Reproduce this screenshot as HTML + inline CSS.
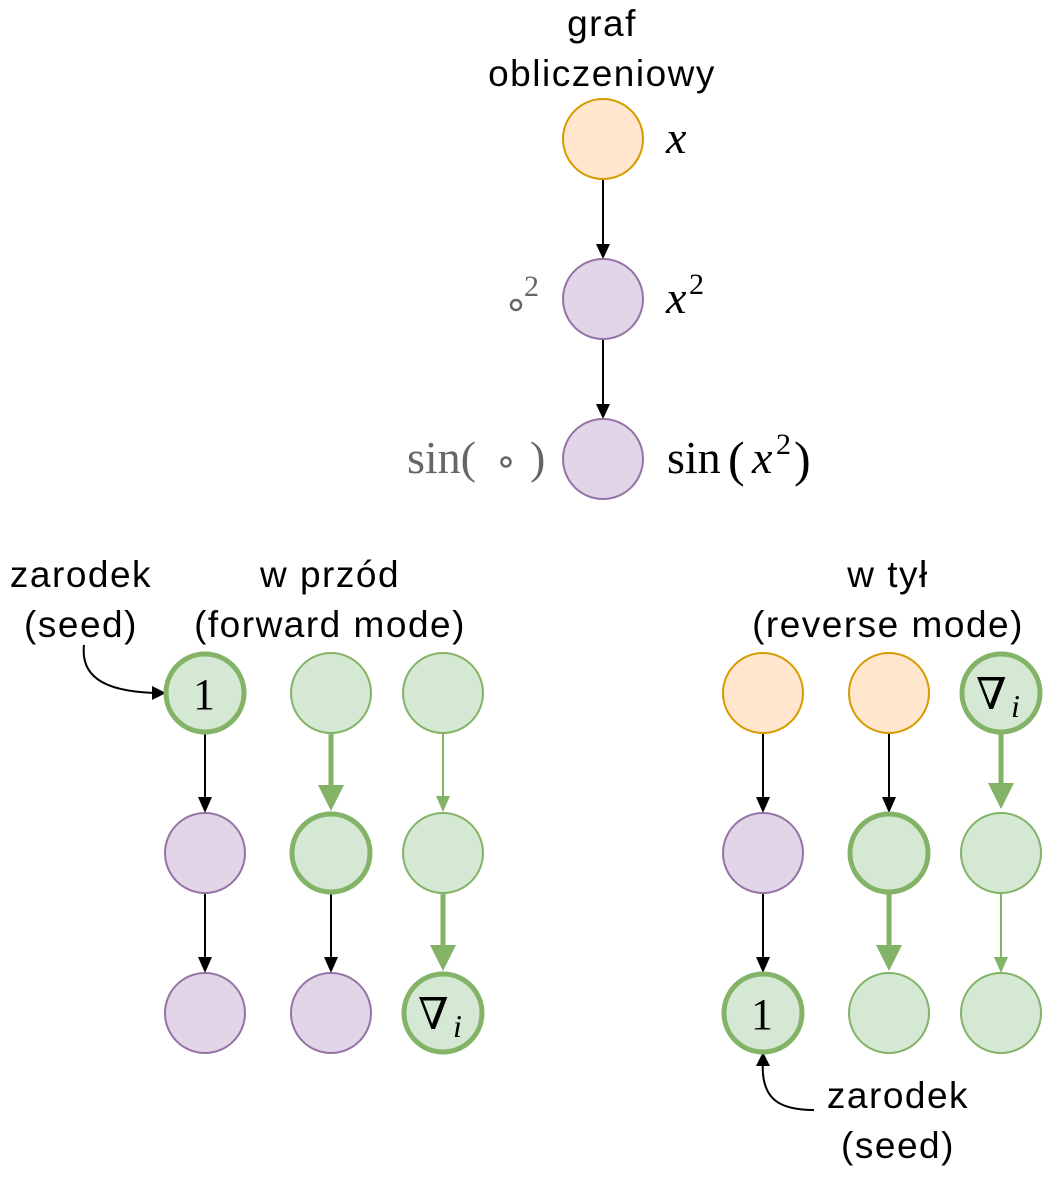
<!DOCTYPE html>
<html><head><meta charset="utf-8"><style>html,body{margin:0;padding:0;background:#fff}</style></head>
<body>
<svg width="1064" height="1174" viewBox="0 0 1064 1174" xmlns="http://www.w3.org/2000/svg">
<g font-family="Liberation Sans, sans-serif" font-size="37" letter-spacing="1.5" text-anchor="middle" fill="#000">
<text x="602" y="36">graf</text>
<text x="602" y="86">obliczeniowy</text>
<text x="81" y="587">zarodek</text>
<text x="81" y="637">(seed)</text>
<text x="330" y="587">w przód</text>
<text x="330" y="637">(forward mode)</text>
<text x="888" y="587">w tył</text>
<text x="888" y="637">(reverse mode)</text>
<text x="898" y="1108">zarodek</text>
<text x="898" y="1158">(seed)</text>
</g>
<!-- top graph -->
<line x1="603" y1="179" x2="603" y2="250" stroke="#000" stroke-width="2"/>
<path d="M596,244 L610,244 L603,259 Z"/>
<line x1="603" y1="339" x2="603" y2="410" stroke="#000" stroke-width="2"/>
<path d="M596,404 L610,404 L603,419 Z"/>
<circle cx="603" cy="139" r="40" fill="#ffe6cc" stroke="#d79b00" stroke-width="2"/>
<circle cx="603" cy="299" r="40" fill="#e1d5e7" stroke="#9673a6" stroke-width="2"/>
<circle cx="603" cy="459" r="40" fill="#e1d5e7" stroke="#9673a6" stroke-width="2"/>
<g font-family="Liberation Serif, serif" font-size="46">
<text x="666" y="153" font-style="italic">x</text>
<text x="666" y="313" font-style="italic">x</text><text x="689" y="294" font-size="30">2</text>
<text x="667" y="473">sin</text><text x="728" y="476" font-size="50">(</text><text x="752" y="473" font-style="italic">x</text><text x="776" y="454" font-size="30">2</text><text x="794" y="476" font-size="50">)</text>
<text x="407" y="473" fill="#666">sin(</text><circle cx="506" cy="462" r="4.5" fill="none" stroke="#666" stroke-width="2.5"/><text x="530" y="473" fill="#666">)</text>
</g>
<circle cx="516" cy="305" r="5" fill="none" stroke="#666" stroke-width="2.5"/>
<text x="524" y="296" font-family="Liberation Serif, serif" font-size="30" fill="#666">2</text>

<!-- left seed curve -->
<path d="M84,645 C80,680 110,692 158,693" fill="none" stroke="#000" stroke-width="2"/>
<path d="M152,686 L166,693 L152,700 Z"/>
<!-- right seed curve -->
<path d="M814,1110 C780,1110 760,1100 763,1060" fill="none" stroke="#000" stroke-width="2"/>
<path d="M756,1066 L763,1052 L770,1066 Z"/>

<g stroke="#000" stroke-width="2">
<line x1="205" y1="733" x2="205" y2="800"/><line x1="205" y1="893" x2="205" y2="960"/>
<line x1="331" y1="893" x2="331" y2="960"/>
<line x1="763" y1="733" x2="763" y2="800"/><line x1="763" y1="893" x2="763" y2="960"/>
<line x1="889" y1="733" x2="889" y2="800"/>
</g>
<g>
<path d="M198,797 L212,797 L205,813 Z"/><path d="M198,957 L212,957 L205,973 Z"/>
<path d="M324,957 L338,957 L331,973 Z"/>
<path d="M756,797 L770,797 L763,813 Z"/><path d="M756,957 L770,957 L763,973 Z"/>
<path d="M882,797 L896,797 L889,813 Z"/>
</g>
<g stroke="#82b366" fill="#82b366">
<line x1="331" y1="733" x2="331" y2="790" stroke-width="5"/><path d="M318,785 L344,785 L331,811 Z" stroke="none"/>
<line x1="443" y1="733" x2="443" y2="800" stroke-width="2"/><path d="M436,796 L450,796 L443,812 Z" stroke="none"/>
<line x1="443" y1="893" x2="443" y2="950" stroke-width="5"/><path d="M430,945 L456,945 L443,971 Z" stroke="none"/>
<line x1="1001" y1="733" x2="1001" y2="790" stroke-width="5"/><path d="M988,783 L1014,783 L1001,809 Z" stroke="none"/>
<line x1="889" y1="893" x2="889" y2="950" stroke-width="5"/><path d="M876,945 L902,945 L889,971 Z" stroke="none"/>
<line x1="1001" y1="893" x2="1001" y2="960" stroke-width="2"/><path d="M994,957 L1008,957 L1001,973 Z" stroke="none"/>
</g>

<circle cx="205" cy="693" r="39" fill="#d5e8d4" stroke="#82b366" stroke-width="5"/>
<circle cx="331" cy="693" r="40" fill="#d5e8d4" stroke="#82b366" stroke-width="2"/>
<circle cx="443" cy="693" r="40" fill="#d5e8d4" stroke="#82b366" stroke-width="2"/>
<circle cx="205" cy="853" r="40" fill="#e1d5e7" stroke="#9673a6" stroke-width="2"/>
<circle cx="331" cy="853" r="39" fill="#d5e8d4" stroke="#82b366" stroke-width="5"/>
<circle cx="443" cy="853" r="40" fill="#d5e8d4" stroke="#82b366" stroke-width="2"/>
<circle cx="205" cy="1013" r="40" fill="#e1d5e7" stroke="#9673a6" stroke-width="2"/>
<circle cx="331" cy="1013" r="40" fill="#e1d5e7" stroke="#9673a6" stroke-width="2"/>
<circle cx="443" cy="1013" r="39" fill="#d5e8d4" stroke="#82b366" stroke-width="5"/>
<circle cx="763" cy="693" r="40" fill="#ffe6cc" stroke="#d79b00" stroke-width="2"/>
<circle cx="889" cy="693" r="40" fill="#ffe6cc" stroke="#d79b00" stroke-width="2"/>
<circle cx="1001" cy="693" r="39" fill="#d5e8d4" stroke="#82b366" stroke-width="5"/>
<circle cx="763" cy="853" r="40" fill="#e1d5e7" stroke="#9673a6" stroke-width="2"/>
<circle cx="889" cy="853" r="39" fill="#d5e8d4" stroke="#82b366" stroke-width="5"/>
<circle cx="1001" cy="853" r="40" fill="#d5e8d4" stroke="#82b366" stroke-width="2"/>
<circle cx="763" cy="1013" r="39" fill="#d5e8d4" stroke="#82b366" stroke-width="5"/>
<circle cx="889" cy="1013" r="40" fill="#d5e8d4" stroke="#82b366" stroke-width="2"/>
<circle cx="1001" cy="1013" r="40" fill="#d5e8d4" stroke="#82b366" stroke-width="2"/>

<g font-family="Liberation Serif, DejaVu Serif, serif" font-size="44">
<text x="204" y="709" text-anchor="middle">1</text>
<text x="762" y="1029" text-anchor="middle">1</text>
<text x="418" y="1029">∇</text><text x="453" y="1037" font-size="32" font-style="italic">i</text>
<text x="976" y="709">∇</text><text x="1011" y="717" font-size="32" font-style="italic">i</text>
</g>
</svg>
</body></html>
